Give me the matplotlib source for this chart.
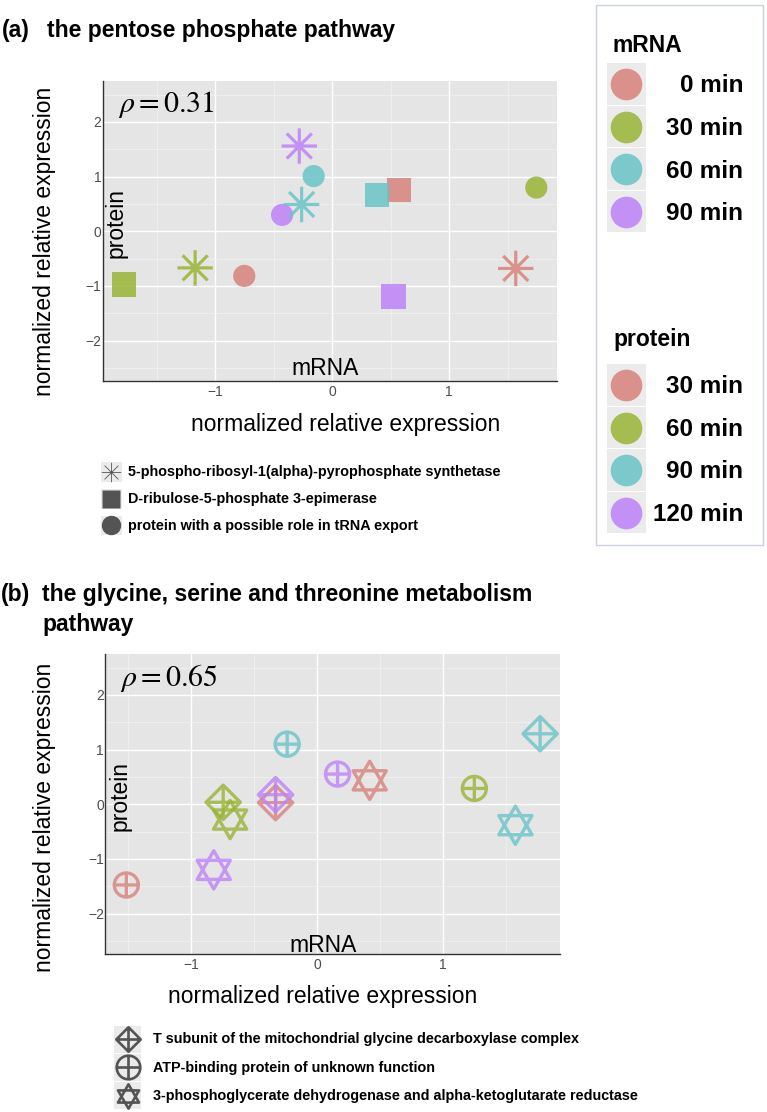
import numpy as np
import matplotlib
matplotlib.use("Agg")
import matplotlib.pyplot as plt
from matplotlib.path import Path
from matplotlib.lines import Line2D
from matplotlib.patches import Rectangle
from matplotlib.legend_handler import HandlerBase

plt.rcParams["font.family"] = ["Liberation Sans", "DejaVu Sans"]
plt.rcParams["mathtext.fontset"] = "stix"

# time points (colour) -- same order in every series below
time_colors = ["#D7827B", "#99B435", "#69C4C7", "#BD82F9"]
mrna_times = ["0 min", "30 min", "60 min", "90 min"]
protein_times = ["30 min", "60 min", "90 min", "120 min"]

# (a) the pentose phosphate pathway
genes_a = ["5-phospho-ribosyl-1(alpha)-pyrophosphate synthetase",
           "D-ribulose-5-phosphate 3-epimerase",
           "protein with a possible role in tRNA export"]
prps_mrna = [1.57, -1.17, -0.26, -0.28]
prps_prot = [-0.68, -0.67, 0.49, 1.56]
rpe_mrna = [0.57, -1.78, 0.385, 0.524]
rpe_prot = [0.76, -0.97, 0.665, -1.195]
trna_mrna = [-0.75, 1.746, -0.157, -0.427]
trna_prot = [-0.817, 0.80, 1.01, 0.30]
rho_a = 0.31

# (b) the glycine, serine and threonine metabolism pathway
genes_b = ["T subunit of the mitochondrial glycine decarboxylase complex",
           "ATP-binding protein of unknown function",
           "3-phosphoglycerate dehydrogenase and alpha-ketoglutarate reductase"]
gcv_mrna = [-0.328, -0.744, 1.772, -0.328]
gcv_prot = [0.03, 0.036, 1.29, 0.176]
atp_mrna = [-1.513, 1.25, -0.236, 0.164]
atp_prot = [-1.477, 0.29, 1.10, 0.553]
pgdh_mrna = [0.419, -0.689, 1.576, -0.819]
pgdh_prot = [0.438, -0.28, -0.383, -1.20]
rho_b = 0.65

W, H = 767, 1112
M, L = Path.MOVETO, Path.LINETO


def fx(px):
    return px / W


def fy(py):
    return 1 - py / H


# ggplot-like shapes 8, 9, 10 and 11
d = np.sqrt(0.5)
ASTER = Path([(-1, 0), (1, 0), (0, -1), (0, 1), (-d, -d), (d, d), (-d, d), (d, -d)],
             [M, L] * 4)
CROSS = Path([(-1, 0), (1, 0), (0, -1), (0, 1)], [M, L, M, L])
CPLUS = Path.make_compound_path(Path.circle((0, 0), 1), CROSS)
DPLUS = Path.make_compound_path(
    Path([(0, 1), (1, 0), (0, -1), (-1, 0), (0, 1)], [M, L, L, L, Path.CLOSEPOLY]), CROSS)
s3 = np.sqrt(3) / 2
HEXA = Path([(0, 1), (s3, -0.5), (-s3, -0.5), (0, 1),
             (0, -1), (s3, 0.5), (-s3, 0.5), (0, -1)],
            [M, L, L, Path.CLOSEPOLY, M, L, L, Path.CLOSEPOLY])


class KeyHandler(HandlerBase):
    # grey key background like ggplot, marker on top
    def create_artists(self, legend, orig_handle, xdescent, ydescent,
                       width, height, fontsize, trans):
        bg = Rectangle((-xdescent, -ydescent), width, height,
                       facecolor="#EBEBEB", edgecolor="none", transform=trans)
        key = Line2D([width / 2 - xdescent], [height / 2 - ydescent])
        key.update_from(orig_handle)
        key.set_linestyle("none")
        key.set_transform(trans)
        return [bg, key]


def setup(ax, xlim, rho):
    ax.set_facecolor("#E5E5E5")
    ax.set_xlim(*xlim)
    ax.set_ylim(-2.74, 2.75)
    ax.set_xticks([-1, 0, 1])
    ax.set_yticks([-2, -1, 0, 1, 2])
    ax.set_xticks([-1.5, -0.5, 0.5, 1.5], minor=True)
    ax.set_yticks([-2.5, -1.5, -0.5, 0.5, 1.5, 2.5], minor=True)
    ax.grid(which="major", color="white", lw=1.0)
    ax.grid(which="minor", color="#F2F2F2", lw=0.5)
    ax.set_axisbelow(True)
    for side in ["top", "right"]:
        ax.spines[side].set_visible(False)
    for side in ["left", "bottom"]:
        ax.spines[side].set_color("#333333")
        ax.spines[side].set_linewidth(1.0)
    ax.tick_params(which="both", length=0, labelsize=10, labelcolor="#4D4D4D")
    ax.tick_params(axis="x", pad=3)
    ax.tick_params(axis="y", pad=1)
    ax.text(0.033, 0.92, r"$\rho = %.2f$" % rho, transform=ax.transAxes,
            fontsize=21.5, va="center", ha="left")


fig = plt.figure(figsize=(W / 100, H / 100), dpi=100)
ax_a = fig.add_axes([fx(102.7), fy(381), (556.7 - 102.7) / W, 300 / H])
ax_b = fig.add_axes([fx(105.3), fy(954), (560 - 105.3) / W, 300 / H])

# panel (a)
setup(ax_a, (-1.96, 1.92), rho_a)
ax_a.scatter(rpe_mrna, rpe_prot, marker="s", s=310, c=time_colors, linewidths=0, alpha=0.85)
ax_a.scatter(trna_mrna, trna_prot, marker="o", s=255, c=time_colors, linewidths=0, alpha=0.85)
ax_a.scatter(prps_mrna, prps_prot, marker=ASTER, s=650, facecolors="none",
             edgecolors=time_colors, linewidths=2.3, alpha=0.85)
ax_a.text(0.49, 0.02, "mRNA", transform=ax_a.transAxes, fontsize=16.5, ha="center", va="baseline")
ax_a.text(0.029, 0.527, "protein", transform=ax_a.transAxes, fontsize=16.5,
          rotation=90, ha="center", va="center")

# panel (b)
setup(ax_b, (-1.68, 1.93), rho_b)
ax_b.scatter(gcv_mrna, gcv_prot, marker=DPLUS, s=610, facecolors="none",
             edgecolors=time_colors, linewidths=2.4, alpha=0.8)
ax_b.scatter(atp_mrna, atp_prot, marker=CPLUS, s=300, facecolors="none",
             edgecolors=time_colors, linewidths=2.4, alpha=0.8)
ax_b.scatter(pgdh_mrna, pgdh_prot, marker=HEXA, s=760, facecolors="none",
             edgecolors=time_colors, linewidths=2.4, alpha=0.8)
ax_b.text(0.478, 0.008, "mRNA", transform=ax_b.transAxes, fontsize=16.5, ha="center", va="baseline")
ax_b.text(0.032, 0.527, "protein", transform=ax_b.transAxes, fontsize=16.5,
          rotation=90, ha="center", va="center")

# titles and outer axis labels
fig.text(fx(2), fy(30), "(a)", fontsize=16.5, weight="bold", va="center")
fig.text(fx(47), fy(30), "the pentose phosphate pathway", fontsize=16.5, weight="bold", va="center")
fig.text(fx(1), fy(595), "(b)", fontsize=16.5, weight="bold", va="center")
fig.text(fx(42), fy(595), "the glycine, serine and threonine metabolism",
         fontsize=16.5, weight="bold", va="center")
fig.text(fx(42), fy(625), "pathway", fontsize=16.5, weight="bold", va="center")
for cx, cy in [(346, 424), (323, 997)]:
    fig.text(fx(cx), fy(cy), "normalized relative expression", fontsize=16.5,
             ha="center", va="center")
for cy in [241, 817]:
    fig.text(fx(45), fy(cy), "normalized relative expression", fontsize=16.5,
             ha="center", va="center", rotation=90)

hmap = {Line2D: KeyHandler()}
grey = "#3A3A3A"

# gene legends (shape)
keys_a = [Line2D([], [], marker=ASTER, ms=14, mfc="none", mec="#555555", mew=0.6),
          Line2D([], [], marker="s", ms=13.4, mfc=grey, mec="none", alpha=0.85),
          Line2D([], [], marker="o", ms=14, mfc=grey, mec="none", alpha=0.85)]
fig.legend(keys_a, genes_a, loc="upper left", bbox_to_anchor=(fx(100.7), fy(461.7)),
           frameon=False, borderpad=0, borderaxespad=0, handlelength=1.45, handleheight=1.75,
           labelspacing=0.48, handletextpad=0.46, prop={"size": 10.4, "weight": "bold"},
           handler_map=hmap)

keys_b = [Line2D([], [], marker=DPLUS, ms=17.6, mfc="none", mec=grey, mew=1.9, alpha=0.85),
          Line2D([], [], marker=CPLUS, ms=17, mfc="none", mec=grey, mew=1.9, alpha=0.85),
          Line2D([], [], marker=HEXA, ms=17.5, mfc="none", mec=grey, mew=1.9, alpha=0.85)]
fig.legend(keys_b, genes_b, loc="upper left", bbox_to_anchor=(fx(114), fy(1025.5)),
           frameon=False, borderpad=0, borderaxespad=0, handlelength=1.87, handleheight=2.5,
           labelspacing=0.1, handletextpad=0.81, prop={"size": 10.4, "weight": "bold"},
           handler_map=hmap)

# time legends (colour), right-hand box; labels right-aligned as in the original
fig.add_artist(Rectangle((fx(596), fy(545)), (763 - 596) / W, 540 / H, transform=fig.transFigure,
                         fill=False, edgecolor="#C9D1E3", lw=1.0))

row_h = 42.5
for title, labels, title_y, key_y in [("mRNA", mrna_times, 46, 84),
                                      ("protein", protein_times, 339.5, 385)]:
    fig.text(fx(613), fy(title_y), title, fontsize=16.5, weight="bold", va="center")
    keys = [Line2D([], [], marker="o", ms=22.8, mfc=c, mec="none", alpha=0.85) for c in time_colors]
    fig.legend(keys, [""] * len(keys), loc="upper left",
               bbox_to_anchor=(fx(606.7), fy(key_y - 20.8)), frameon=False, borderpad=0,
               borderaxespad=0, handlelength=1.6, handleheight=2.263, labelspacing=0.033,
               handletextpad=0, prop={"size": 17.5, "weight": "bold"}, handler_map=hmap)
    for i, lab in enumerate(labels):
        fig.text(fx(743), fy(key_y + 2 + i * row_h), lab, fontsize=17.5, weight="bold",
                 ha="right", va="center")

fig.savefig("out.png", dpi=100)
